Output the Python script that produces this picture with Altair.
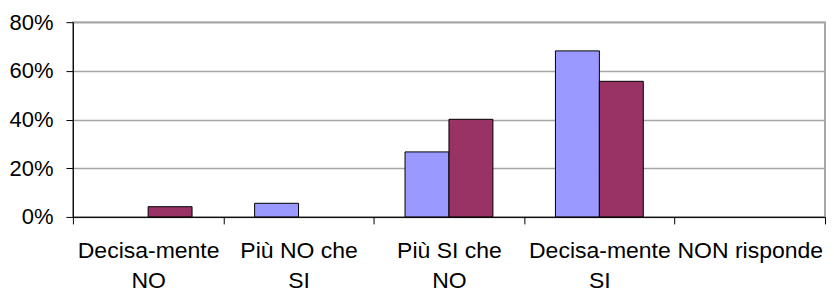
import altair as alt
import pandas as pd

categories = ["Decisa-mente NO", "Più NO che SI", "Più SI che NO", "Decisa-mente SI", "NON risponde"]
label_lines = [["Decisa-mente", "NO"], ["Più NO che", "SI"], ["Più SI che", "NO"], ["Decisa-mente", "SI"], ["NON risponde"]]
series = ["Serie 1", "Serie 2"]
values_s1 = [0.0, 0.056, 0.267, 0.682, 0.0]
values_s2 = [0.042, 0.0, 0.401, 0.557, 0.0]
y_ticks = [0, 0.2, 0.4, 0.6, 0.8]
colors = ["#9999FF", "#993366"]

rows = []
for c, v1, v2 in zip(categories, values_s1, values_s2):
    if v1 > 0:
        rows.append({"cat": c, "serie": series[0], "val": v1})
    if v2 > 0:
        rows.append({"cat": c, "serie": series[1], "val": v2})
df = pd.DataFrame(rows)

mapping = "{" + ", ".join(
    "'" + c + "': [" + ", ".join("'" + l + "'" for l in lines) + "]"
    for c, lines in zip(categories, label_lines)
) + "}"

FONT = "Liberation Sans"

chart = alt.Chart(df).mark_bar(stroke="black", strokeWidth=1).encode(
    x=alt.X("cat:N", title=None,
            scale=alt.Scale(domain=categories, paddingInner=0, paddingOuter=0, round=False),
            axis=alt.Axis(labelAngle=0, tickBand="extent", tickSize=7, tickColor="black",
                          domainColor="black", labelFont=FONT, labelFontSize=23,
                          labelColor="black", labelPadding=16, labelLineHeight=30,
                          labelExpr=mapping + "[datum.label]", grid=False)),
    xOffset=alt.XOffset("serie:N",
                        scale=alt.Scale(domain=series, paddingInner=0, paddingOuter=0.712)),
    y=alt.Y("val:Q", title=None,
            scale=alt.Scale(domain=[0, 0.8], nice=False),
            axis=alt.Axis(values=y_ticks, format=".0%", tickSize=7, tickColor="black",
                          domainColor="black", labelFont=FONT, labelFontSize=22,
                          labelColor="black", labelPadding=13, gridColor="#a6a6a6",
                          gridWidth=1.5)),
    color=alt.Color("serie:N", legend=None,
                    scale=alt.Scale(domain=series, range=colors)),
).properties(
    width=753, height=195,
    padding={"left": 0, "top": 3, "right": 0, "bottom": 0},
).configure_view(
    stroke="#888888", strokeWidth=1.5
)

chart.save("out.html", embed_options={"renderer": "svg", "actions": False})
